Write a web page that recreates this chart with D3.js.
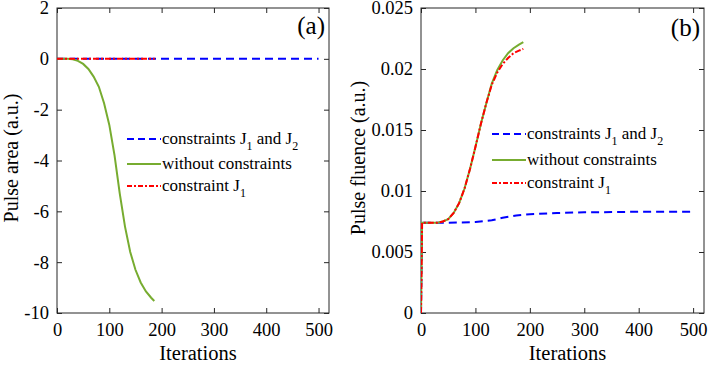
<!DOCTYPE html>
<html><head><meta charset="utf-8">
<script src="https://cdn.jsdelivr.net/npm/d3@7"></script>
<style>body{margin:0;background:#fff}svg{display:block}text{font-family:"Liberation Serif","Times New Roman",Tinos,serif;fill:#000}</style>
</head><body><svg id="c" width="710" height="366"></svg>
<script>
// ---- data ----
const xTicks = [0,100,200,300,400,500];
const yTicksA = [2,0,-2,-4,-6,-8,-10];
const yTicksB = [0,0.005,0.01,0.015,0.02,0.025];
const yTickLabelsB = ["0","0.005","0.01","0.015","0.02","0.025"];

// Panel (a): pulse area
const aBlueX = [0,500];
const aBlueY = [0,0];
const aRedX = [0,187];
const aRedY = [0,0];
const aGreenX = [0,20,30,40,50,60,70,80,90,100,110,120,130,140,150,160,170,180,186];
const aGreenY = [0,0,-0.02,-0.08,-0.2,-0.4,-0.7,-1.1,-1.75,-2.6,-3.8,-5.3,-6.6,-7.6,-8.3,-8.8,-9.15,-9.4,-9.53];

// Panel (b): pulse fluence
const bBlueX = [0,2,50,100,130,150,175,200,250,300,400,500];
const bBlueY = [0,0.0074,0.0074,0.00745,0.0076,0.0078,0.0080,0.0081,0.0082,0.00825,0.0083,0.0083];
const bGreenX = [0,2,30,40,50,60,70,80,90,100,110,120,130,140,150,160,170,180,188];
const bGreenY = [0,0.0074,0.0074,0.0075,0.0077,0.0082,0.0090,0.0102,0.0118,0.0136,0.0155,0.0172,0.0188,0.0199,0.0207,0.0213,0.0217,0.0220,0.0222];
const bRedX = [0,2,30,40,50,60,70,80,90,100,110,120,130,140,150,160,170,180,188];
const bRedY = [0,0.0074,0.0074,0.0075,0.0077,0.0082,0.0090,0.0102,0.0118,0.0136,0.0155,0.0172,0.0187,0.0197,0.0204,0.0209,0.0213,0.0215,0.02165];

const blue = "#0000ff", green = "#77ac30", red = "#ff0000";
const FONT = '"Liberation Serif","Times New Roman",Tinos,serif';
const svg = d3.select("#c");

function panel(opt){
  const g = svg.append("g");
  const x = d3.scaleLinear().domain([0,520]).range([opt.left,opt.right]);
  const y = d3.scaleLinear().domain(opt.ydom).range([313,8]);
  g.append("rect").attr("x",opt.left).attr("y",8).attr("width",opt.right-opt.left).attr("height",305)
    .attr("fill","none").attr("stroke","#262626").attr("stroke-width",1);
  const bx = g.append("g").attr("transform",`translate(0,313)`)
    .call(d3.axisBottom(x).tickValues(xTicks).tickSizeInner(-5).tickSizeOuter(0).tickPadding(10));
  const tx = g.append("g").attr("transform",`translate(0,8)`)
    .call(d3.axisTop(x).tickValues(xTicks).tickSizeInner(-5).tickSizeOuter(0).tickFormat(""));
  const ly = g.append("g").attr("transform",`translate(${opt.left},0)`)
    .call(d3.axisLeft(y).tickValues(opt.yticks).tickSizeInner(-5).tickSizeOuter(0).tickPadding(8).tickFormat((d,i)=>opt.ylabels[i]));
  const ry = g.append("g").attr("transform",`translate(${opt.right},0)`)
    .call(d3.axisRight(y).tickValues(opt.yticks).tickSizeInner(-5).tickSizeOuter(0).tickFormat(""));
  [bx,tx,ly,ry].forEach(a=>{a.attr("font-family",FONT);a.select(".domain").remove();a.selectAll("line").attr("stroke","#262626");
    a.selectAll("text").style("font-family",FONT).style("font-size","18.5px").attr("fill","#000");});
  g.append("text").attr("x",(opt.left+opt.right)/2+5).attr("y",360).attr("text-anchor","middle")
    .style("font-size","20.5px").text("Iterations");
  g.append("text").attr("transform",`translate(${opt.ylabX},158) rotate(-90)`).attr("text-anchor","middle")
    .style("font-size","20px").text(opt.ylab);
  g.append("text").attr("x",opt.right-4).attr("y",opt.tagY).attr("text-anchor","end")
    .style("font-size","25px").text(opt.tag);
  const line = (X,Y)=>d3.line().x((d,i)=>x(X[i])).y((d,i)=>y(Y[i]))(X);
  const clip = "clip"+opt.tag.replace(/\W/g,"");
  g.append("clipPath").attr("id",clip).append("rect").attr("x",opt.left).attr("y",8).attr("width",opt.right-opt.left).attr("height",305);
  const s = g.append("g").attr("clip-path",`url(#${clip})`);
  opt.series.forEach(sr=>{
    s.append("path").attr("d",line(sr.X,sr.Y)).attr("fill","none").attr("stroke",sr.c)
     .attr("stroke-width",2).attr("stroke-dasharray",sr.dash||null);
  });
  const items = [
    {c:blue,dash:"7,4",parts:[["constraints J",0],["1",1],[" and J",0],["2",1]]},
    {c:green,dash:null,parts:[["without constraints",0]]},
    {c:red,dash:"5,2,2,2",parts:[["constraint J",0],["1",1]]}
  ];
  items.forEach((it,i)=>{
    const yy = opt.legY[i];
    g.append("line").attr("x1",opt.legX).attr("x2",opt.legX+34).attr("y1",yy).attr("y2",yy)
      .attr("stroke",it.c).attr("stroke-width",2).attr("stroke-dasharray",it.dash);
    const t = g.append("text").attr("x",opt.legX+35).attr("y",yy+5).style("font-size","17px");
    let sub = 0;
    it.parts.forEach(p=>{
      const dy = p[1] ? 6 - sub : -sub;
      sub = p[1] ? 6 : 0;
      t.append("tspan").attr("dy",dy).style("font-size",p[1]?"12px":"17px").text(p[0]);
    });
  });
}

panel({left:57,right:329,ydom:[-10,2],yticks:yTicksA,ylabels:yTicksA.map(String),ylab:"Pulse area (a.u.)",ylabX:18,
  tag:"(a)",tagY:34,legX:127,legY:[139,164,186],
  series:[{X:aBlueX,Y:aBlueY,c:blue,dash:"8,5"},{X:aGreenX,Y:aGreenY,c:green},{X:aRedX,Y:aRedY,c:red,dash:"6,2,2,2"}]});
panel({left:421,right:704,ydom:[0,0.025],yticks:yTicksB,ylabels:yTickLabelsB,ylab:"Pulse fluence (a.u.)",ylabX:365,
  tag:"(b)",tagY:36,legX:492,legY:[134,160,183],
  series:[{X:bBlueX,Y:bBlueY,c:blue,dash:"8,5"},{X:bGreenX,Y:bGreenY,c:green},{X:bRedX,Y:bRedY,c:red,dash:"6,2,2,2"}]});
</script></body></html>
